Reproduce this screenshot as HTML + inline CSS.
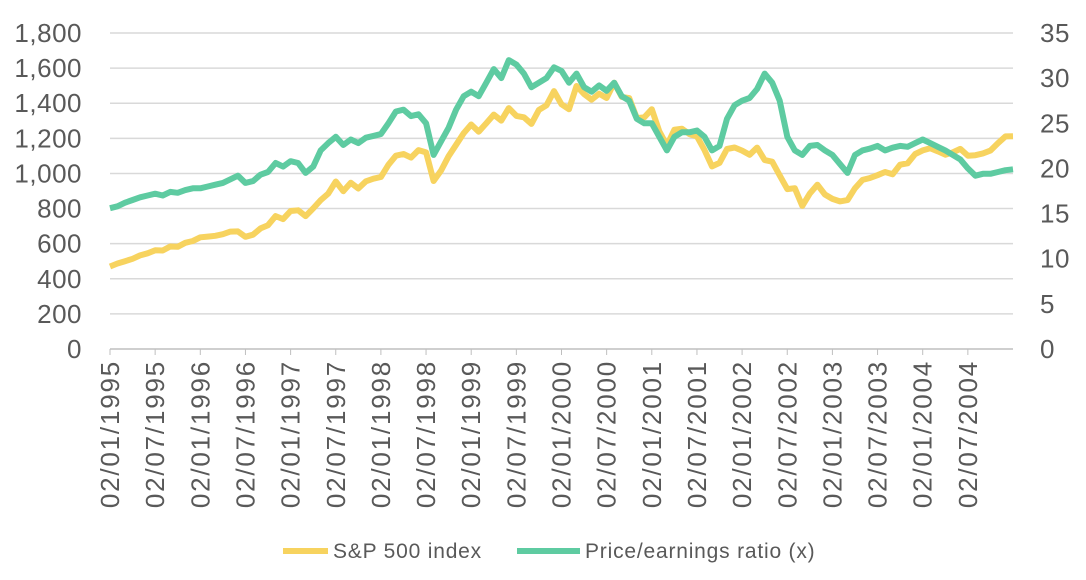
<!DOCTYPE html>
<html><head><meta charset="utf-8"><style>
body{margin:0;background:#fff;}
svg{display:block;font-family:"Liberation Sans",sans-serif;}
</style></head><body>
<svg id="chart" width="1086" height="580" viewBox="0 0 1086 580"></svg>
<script>
const xLabels=["02/01/1995","02/07/1995","02/01/1996","02/07/1996","02/01/1997","02/07/1997","02/01/1998","02/07/1998","02/01/1999","02/07/1999","02/01/2000","02/07/2000","02/01/2001","02/07/2001","02/01/2002","02/07/2002","02/01/2003","02/07/2003","02/01/2004","02/07/2004"];
const leftTicks=[0,200,400,600,800,1000,1200,1400,1600,1800];
const rightTicks=[0,5,10,15,20,25,30,35];
const spx=[470,487,500,514,533,545,562,561,584,582,605,615,
636,640,645,654,669,670,639,651,687,705,757,740,
786,790,757,801,848,885,954,899,947,914,955,970,
980,1049,1101,1111,1090,1133,1120,957,1017,1098,1163,1229,
1279,1238,1286,1335,1301,1372,1328,1320,1282,1362,1388,1469,
1394,1366,1498,1452,1420,1454,1430,1517,1436,1429,1315,1320,
1366,1240,1160,1249,1255,1224,1211,1133,1040,1060,1139,1148,
1130,1106,1147,1076,1067,989,911,916,815,885,936,880,
855,841,848,916,963,974,990,1008,995,1050,1058,1111,
1131,1144,1126,1107,1120,1140,1101,1104,1114,1130,1173,1211,1212];
const pe=[15.6,15.8,16.2,16.5,16.8,17.0,17.2,17.0,17.4,17.3,17.6,17.8,
17.8,18.0,18.2,18.4,18.8,19.2,18.4,18.6,19.3,19.6,20.6,20.2,
20.8,20.6,19.5,20.2,22.0,22.8,23.5,22.6,23.2,22.8,23.4,23.6,
23.8,25.0,26.3,26.5,25.8,26.0,25.0,21.5,23.0,24.5,26.5,28.0,
28.5,28.0,29.5,31.0,30.0,32.0,31.5,30.5,29.0,29.5,30.0,31.2,
30.8,29.5,30.5,29.0,28.5,29.2,28.6,29.5,28.0,27.5,25.5,25.0,
25.0,23.5,22.0,23.5,24.0,24.0,24.2,23.5,22.0,22.5,25.5,27.0,
27.5,27.8,28.8,30.5,29.5,27.5,23.5,22.0,21.5,22.5,22.6,22.0,
21.5,20.5,19.5,21.5,22.0,22.2,22.5,22.0,22.3,22.5,22.4,22.8,
23.2,22.8,22.4,22.0,21.5,21.0,20.0,19.2,19.4,19.4,19.6,19.8,19.9];

const NS="http://www.w3.org/2000/svg";
const svg=document.getElementById('chart');
const X0=110,X1=1013,Y0=349,Y1=33;
const xm=i=>X0+(X1-X0)*i/120;
const yl=v=>Y0-(Y0-Y1)*v/1800;
const yr=v=>Y0-(Y0-Y1)*v/35;
function mk(t,a,txt){const e=document.createElementNS(NS,t);for(const k in a)e.setAttribute(k,a[k]);if(txt!==undefined)e.textContent=txt;svg.appendChild(e);return e;}

leftTicks.forEach(v=>{
  if(v>0){const g=mk('line',{x1:X0,x2:X1,y1:yl(v),y2:yl(v),stroke:'#d9d9d9','stroke-width':1.5});
  
  }
  const t=mk('text',{x:82,y:yl(v)+9,'text-anchor':'end','font-size':26,'letter-spacing':0.5,fill:'#595959'},v.toLocaleString('en-US'));
  
  
});
rightTicks.forEach(v=>{
  const t=mk('text',{x:1040,y:yr(v)+9,'font-size':26,'letter-spacing':0.5,fill:'#595959'},String(v));
  
  
});
const ax=mk('line',{x1:X0,x2:X1,y1:Y0,y2:Y0,stroke:'#bfbfbf','stroke-width':1.5});


xLabels.forEach((l,i)=>{
  const x=xm(i*6);
  const tk=mk('line',{x1:x,x2:x,y1:Y0,y2:Y0+6,stroke:'#bfbfbf'});
  
  
  const t=mk('text',{x:0,y:0,transform:`translate(${x+9},360) rotate(-90)`,'text-anchor':'end','font-size':26,'letter-spacing':1.8,fill:'#595959'},l);
  
  
});
function line(arr,f,color,name){
  const d=arr.map((v,i)=>(i?'L':'M')+xm(i).toFixed(1)+','+f(v).toFixed(1)).join('');
  const p=mk('path',{d:d,fill:'none',stroke:color,'stroke-width':6,'stroke-linejoin':'round'});
  
  
}
line(spx,yl,'#F7D35F','sp500-line');
line(pe,yr,'#5ECBA1','pe-ratio-line');

const l1=mk('line',{x1:283,x2:328,y1:551,y2:551,stroke:'#F7D35F','stroke-width':6});


const t1=mk('text',{x:333,y:558,'font-size':21,'letter-spacing':0.8,fill:'#595959'},'S&P 500 index');


const l2=mk('line',{x1:517,x2:580,y1:551,y2:551,stroke:'#5ECBA1','stroke-width':6});


const t2=mk('text',{x:585,y:558,'font-size':21,'letter-spacing':0.8,fill:'#595959'},'Price/earnings ratio (x)');


</script>
</body></html>
